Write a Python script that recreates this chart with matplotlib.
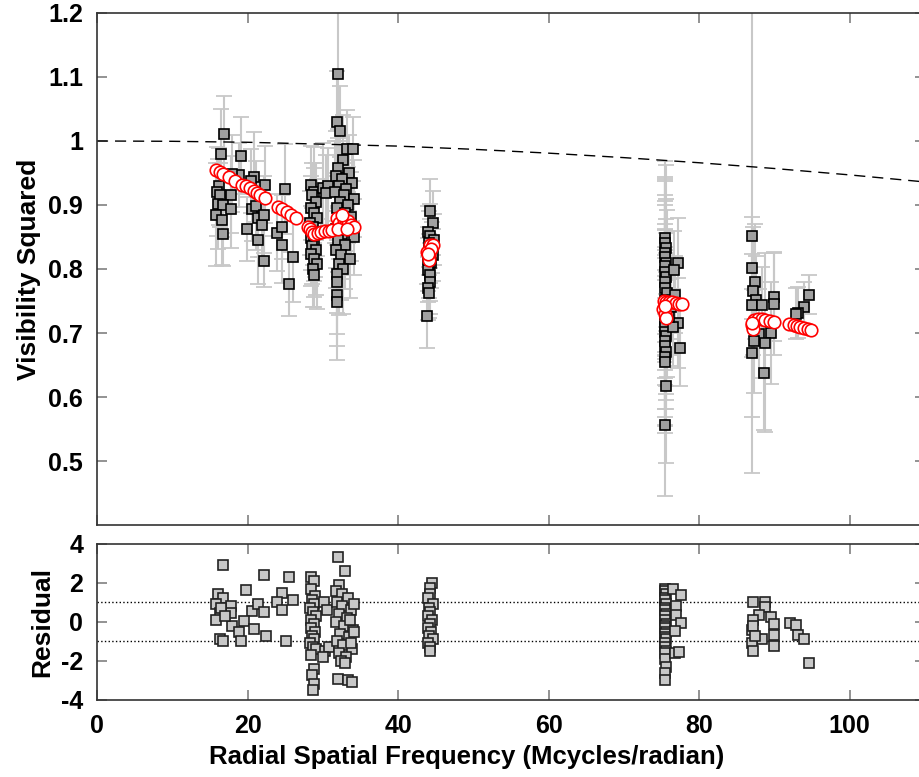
import numpy as np
import matplotlib
matplotlib.use("Agg")
import matplotlib.pyplot as plt

plt.rcParams['font.family'] = ['Liberation Sans', 'DejaVu Sans']
plt.rcParams['font.weight'] = 'bold'
plt.rcParams['axes.unicode_minus'] = False

# measured squared visibilities: (frequency, V^2, error)
vis_data = [
    # ~16-27
    (16.9, 1.011, 0.06), (16.5, 0.980, 0.07), (19.1, 0.977, 0.06), (18.9, 0.947, 0.05),
    (17.9, 0.949, 0.06), (20.9, 0.944, 0.07), (20.5, 0.938, 0.05), (22.3, 0.932, 0.06),
    (25.0, 0.925, 0.07), (16.2, 0.929, 0.06), (15.9, 0.921, 0.07), (16.3, 0.915, 0.05),
    (17.8, 0.916, 0.06), (16.1, 0.902, 0.07), (16.7, 0.900, 0.05), (17.8, 0.893, 0.06),
    (15.8, 0.885, 0.08), (16.6, 0.876, 0.07), (16.8, 0.854, 0.05), (20.6, 0.894, 0.05),
    (21.1, 0.899, 0.07), (21.4, 0.879, 0.06), (21.9, 0.869, 0.05), (22.2, 0.885, 0.06),
    (19.9, 0.863, 0.05), (21.4, 0.846, 0.07), (22.2, 0.812, 0.04), (23.9, 0.857, 0.06),
    (24.6, 0.866, 0.05), (24.6, 0.838, 0.06), (26.0, 0.818, 0.07), (25.5, 0.776, 0.05),
    # ~28-31
    (28.4, 0.932, 0.06), (28.9, 0.921, 0.07), (28.6, 0.915, 0.05), (29.1, 0.905, 0.06),
    (28.5, 0.896, 0.05), (28.8, 0.888, 0.07), (29.2, 0.880, 0.06), (28.3, 0.872, 0.05),
    (28.7, 0.866, 0.06), (29.0, 0.858, 0.07), (28.4, 0.848, 0.05), (28.9, 0.842, 0.06),
    (28.6, 0.836, 0.06), (29.1, 0.830, 0.07), (28.5, 0.823, 0.05), (28.8, 0.816, 0.06),
    (29.2, 0.808, 0.07), (28.7, 0.800, 0.06), (28.9, 0.791, 0.05), (30.0, 0.927, 0.07),
    (30.7, 0.929, 0.06), (30.4, 0.918, 0.06),
    # ~32-34
    (32.0, 1.105, 0.10), (31.9, 1.030, 0.08), (32.3, 1.016, 0.07), (33.2, 0.988, 0.06),
    (34.0, 0.988, 0.05), (32.7, 0.971, 0.07), (32.0, 0.958, 0.06), (33.5, 0.950, 0.06),
    (31.8, 0.945, 0.07), (32.5, 0.940, 0.05), (33.9, 0.935, 0.06), (32.2, 0.930, 0.07),
    (33.1, 0.925, 0.06), (31.6, 0.920, 0.08), (32.8, 0.915, 0.05), (34.1, 0.910, 0.06),
    (32.3, 0.905, 0.07), (33.4, 0.900, 0.06), (31.9, 0.895, 0.05), (32.9, 0.888, 0.06),
    (33.8, 0.882, 0.07), (32.1, 0.876, 0.06), (33.3, 0.870, 0.05), (31.7, 0.862, 0.06),
    (32.6, 0.855, 0.07), (34.2, 0.850, 0.06), (32.0, 0.845, 0.05), (33.0, 0.838, 0.07),
    (31.8, 0.830, 0.06), (32.4, 0.822, 0.07), (33.6, 0.815, 0.06), (32.1, 0.808, 0.08),
    (32.7, 0.800, 0.07), (31.9, 0.792, 0.06), (31.9, 0.779, 0.08), (31.9, 0.760, 0.08),
    (31.9, 0.748, 0.09),
    # ~44
    (44.2, 0.891, 0.05), (44.6, 0.872, 0.05), (44.0, 0.858, 0.04), (44.3, 0.851, 0.05),
    (44.8, 0.846, 0.04), (44.1, 0.840, 0.05), (44.5, 0.834, 0.04), (44.2, 0.828, 0.05),
    (44.7, 0.822, 0.04), (44.0, 0.816, 0.05), (44.4, 0.810, 0.04), (44.1, 0.805, 0.05),
    (44.0, 0.799, 0.05), (44.3, 0.790, 0.04), (44.2, 0.779, 0.05), (44.0, 0.770, 0.05),
    (44.1, 0.763, 0.04), (43.9, 0.727, 0.05),
    # ~76
    (75.5, 0.849, 0.12), (75.4, 0.840, 0.10), (75.6, 0.833, 0.13), (75.5, 0.825, 0.09),
    (75.4, 0.818, 0.12), (75.6, 0.810, 0.10), (75.5, 0.804, 0.14), (75.4, 0.796, 0.11),
    (75.6, 0.788, 0.09), (75.5, 0.780, 0.12), (75.4, 0.771, 0.10), (75.7, 0.762, 0.13),
    (75.5, 0.752, 0.11), (75.4, 0.745, 0.09), (75.6, 0.737, 0.12), (75.5, 0.729, 0.10),
    (75.4, 0.721, 0.14), (75.6, 0.715, 0.11), (75.5, 0.709, 0.09), (75.4, 0.702, 0.12),
    (75.6, 0.695, 0.10), (75.5, 0.687, 0.13), (75.4, 0.679, 0.11), (75.6, 0.671, 0.09),
    (75.5, 0.663, 0.12), (75.4, 0.654, 0.10), (75.6, 0.617, 0.12), (75.4, 0.556, 0.11),
    (77.2, 0.810, 0.07), (76.6, 0.799, 0.06), (76.8, 0.760, 0.06), (77.2, 0.716, 0.07),
    (76.5, 0.709, 0.06), (77.4, 0.677, 0.06), (76.3, 0.740, 0.05), (76.0, 0.725, 0.06),
    # ~87-90
    (87.0, 0.851, 0.37), (87.0, 0.802, 0.08), (87.4, 0.780, 0.09), (87.1, 0.765, 0.10),
    (87.6, 0.751, 0.07), (87.0, 0.743, 0.08), (88.3, 0.743, 0.06), (89.9, 0.757, 0.07),
    (89.9, 0.745, 0.08), (88.0, 0.699, 0.07), (89.6, 0.700, 0.08), (87.3, 0.687, 0.08),
    (88.8, 0.685, 0.14), (87.0, 0.668, 0.10), (88.6, 0.638, 0.09),
    # ~92-95
    (94.6, 0.760, 0.03), (93.9, 0.740, 0.04), (93.1, 0.732, 0.04), (92.8, 0.730, 0.04),
]
vis_freq = [d[0] for d in vis_data]
vis_v2 = [d[1] for d in vis_data]
vis_err = [d[2] for d in vis_data]

# model visibilities (red open circles)
model_freq = [15.8, 16.3, 16.8, 17.6, 18.4, 19.3, 19.8, 20.3, 20.8, 21.2, 21.7, 22.3,
              24.0, 24.6, 25.2, 25.8, 26.4,
              28.0, 28.3, 28.6, 28.9, 29.3, 29.8, 30.3, 30.8, 31.2,
              31.9, 32.2, 32.5, 32.8, 33.1, 33.4, 33.8, 34.1, 32.0, 32.6, 33.2,
              44.2, 44.6, 43.9, 44.1, 44.1, 44.4, 44.0,
              75.3, 75.6, 76.0, 76.4, 76.9, 77.3, 77.7, 75.2, 75.5, 75.6, 75.4,
              87.0, 87.1, 87.3, 87.8, 88.3, 88.8, 89.4, 89.9, 87.0,
              92.0, 92.6, 93.0, 93.4, 93.9, 94.4, 94.9]
model_v2 = [0.955, 0.951, 0.948, 0.943, 0.938, 0.932, 0.929, 0.926, 0.922, 0.919, 0.916, 0.911,
            0.897, 0.893, 0.889, 0.885, 0.880,
            0.865, 0.862, 0.858, 0.855, 0.857, 0.858, 0.859, 0.860, 0.861,
            0.880, 0.872, 0.865, 0.877, 0.870, 0.875, 0.868, 0.866, 0.862, 0.884, 0.862,
            0.838, 0.837, 0.827, 0.820, 0.814, 0.832, 0.824,
            0.750, 0.749, 0.749, 0.748, 0.747, 0.746, 0.746, 0.738, 0.730, 0.724, 0.742,
            0.712, 0.706, 0.720, 0.722, 0.722, 0.721, 0.719, 0.717, 0.716,
            0.714, 0.712, 0.711, 0.710, 0.708, 0.706, 0.704]

# uniform-disk curve (dashed)
ud_freq = [0, 10, 20, 30, 40, 50, 60, 70, 80, 90, 100, 110]
ud_v2 = [1.000, 0.9995, 0.998, 0.995, 0.992, 0.987, 0.981, 0.974, 0.966, 0.957, 0.947, 0.936]

# residuals
res_data = [
    (16.8, 2.9), (22.2, 2.4), (25.5, 2.3), (19.8, 1.65), (24.6, 1.5), (16.1, 1.4), (16.7, 1.2),
    (15.8, 0.9), (17.8, 0.8), (16.3, 0.45), (17.8, 0.45), (15.8, 0.1), (20.6, 0.55), (21.4, 0.9),
    (22.2, 0.5), (23.9, 1.0), (24.6, 0.6), (26.0, 1.1), (18.0, -0.2), (19.5, 0.05), (18.9, -0.5),
    (20.8, -0.35), (22.5, -0.7), (16.3, -0.9), (16.8, -1.0), (19.2, -1.0), (25.1, -1.0),
    (16.5, 0.7), (17.0, 0.3),
    (28.5, 2.3), (28.8, 2.1), (28.4, 1.7), (29.0, 1.3), (28.6, 1.1), (28.9, 0.9), (28.3, 0.7),
    (28.7, 0.5), (29.1, 0.3), (28.5, 0.1), (28.8, -0.1), (28.4, -0.3), (29.0, -0.5), (28.6, -0.7),
    (28.9, -0.9), (28.3, -1.1), (28.7, -1.3), (29.1, -1.4), (28.5, -1.7), (28.8, -2.4),
    (28.6, -2.7), (28.9, -3.2), (28.7, -3.5), (30.1, 1.0), (30.6, 0.6), (30.3, -1.5),
    (30.8, -1.3), (30.0, -1.8),
    (32.0, 3.3), (33.0, 2.6), (32.2, 1.9), (31.8, 1.6), (32.6, 1.4), (33.4, 1.2), (31.9, 1.0),
    (32.5, 0.8), (33.8, 0.6), (32.1, 0.4), (33.2, 0.2), (31.7, 0.0), (32.8, -0.2), (34.0, -0.4),
    (32.3, -0.6), (33.5, -0.8), (31.9, -1.0), (32.7, -1.2), (33.9, -1.4), (32.1, -1.6),
    (33.1, -1.8), (32.4, -2.0), (32.0, -2.9), (33.3, -3.0), (33.9, -3.1), (34.2, 0.9),
    (33.6, 0.1), (34.1, -0.5), (33.7, -1.1), (32.9, -2.1),
    (44.5, 2.0), (44.2, 1.75), (44.3, 1.4), (44.0, 1.2), (44.6, 0.9), (44.1, 0.7), (44.3, 0.5),
    (44.0, 0.3), (44.5, 0.1), (44.2, -0.1), (44.0, -0.3), (44.4, -0.5), (44.1, -0.7),
    (44.6, -0.9), (44.0, -1.1), (44.3, -1.3), (44.2, -1.5),
    (75.5, 1.7), (75.4, 1.6), (75.6, 1.4), (75.5, 1.2), (75.4, 1.1), (75.6, 0.9), (75.5, 0.7),
    (75.4, 0.6), (75.6, 0.4), (75.5, 0.3), (75.4, 0.1), (75.6, -0.1), (75.5, -0.2), (75.4, -0.3),
    (75.6, -0.5), (75.5, -0.6), (75.4, -0.8), (75.6, -0.9), (75.5, -1.1), (75.4, -1.3),
    (75.6, -1.5), (75.5, -1.6), (75.4, -1.9), (75.6, -2.3), (75.5, -2.6), (75.4, -3.0),
    (76.5, 1.7), (77.6, 1.35), (76.9, 0.8), (76.9, 0.35), (77.6, -0.05), (76.8, -0.45),
    (76.8, -1.6), (77.3, -1.55),
    (87.1, 1.0), (88.8, 1.0), (88.7, 0.75), (88.0, 0.35), (87.1, 0.1), (89.6, 0.25),
    (89.9, -0.1), (87.0, -0.4), (89.9, -0.65), (88.3, -0.9), (87.0, -1.1), (89.9, -1.25),
    (87.1, -1.5), (87.2, -0.2), (87.4, -0.7),
    (92.1, -0.05), (92.9, -0.15), (93.1, -0.65), (93.9, -0.9), (94.6, -2.1),
]
res_freq = [d[0] for d in res_data]
res_val = [d[1] for d in res_data]

fig = plt.figure(figsize=(9.19, 7.77), dpi=100)
ax1 = fig.add_axes([0.1055, 0.3243, 0.901, 0.659])
ax2 = fig.add_axes([0.1055, 0.0991, 0.901, 0.2012])

ax1.errorbar(vis_freq, vis_v2, yerr=vis_err, fmt='none', ecolor='#c8c8c8',
             elinewidth=1.5, capsize=6, capthick=1.3, zorder=1)
ax1.plot(ud_freq, ud_v2, color='k', lw=1, dashes=(8, 5), zorder=2)
ax1.plot(vis_freq, vis_v2, 's', ms=7.5, mfc='#a0a0a0', mec='k', mew=1.2, zorder=3)
ax1.plot(model_freq, model_v2, 'o', ms=9, mfc='white', mec='red', mew=1.2, zorder=4)

ax1.set_xlim(0, 110)
ax1.set_ylim(0.4, 1.2)
ax1.set_yticks([0.5, 0.6, 0.7, 0.8, 0.9, 1.0, 1.1, 1.2])
ax1.set_yticklabels(['0.5', '0.6', '0.7', '0.8', '0.9', '1', '1.1', '1.2'])
ax1.set_xticks([0, 20, 40, 60, 80, 100])
ax1.set_xticklabels([])
ax1.set_ylabel('Visibility Squared', fontsize=19, fontweight='bold')
ax1.yaxis.set_label_coords(-0.067, 0.5)

ax2.axhline(1, color='k', ls=':', lw=1)
ax2.axhline(-1, color='k', ls=':', lw=1)
ax2.plot(res_freq, res_val, 's', ms=7, mfc='#c8c8c8', mec='#222222', mew=1.2, zorder=3)
ax2.set_xlim(0, 110)
ax2.set_ylim(-4, 4)
ax2.set_yticks([-4, -2, 0, 2, 4])
ax2.set_xticks([0, 20, 40, 60, 80, 100])
ax2.set_xlabel('Radial Spatial Frequency (Mcycles/radian)', fontsize=18.5, fontweight='bold')
ax2.xaxis.set_label_coords(0.447, -0.285)
ax2.set_ylabel('Residual', fontsize=19, fontweight='bold')
ax2.yaxis.set_label_coords(-0.052, 0.5)

for ax in (ax1, ax2):
    ax.tick_params(direction='in', top=True, right=True, length=7, width=1.2,
                   color='#808080', labelsize=18, pad=10)
    for lab in ax.get_xticklabels() + ax.get_yticklabels():
        lab.set_fontweight('bold')
    for sp in ax.spines.values():
        sp.set_color('#333333')
        sp.set_linewidth(1.2)

fig.savefig('out.png', dpi=100)
